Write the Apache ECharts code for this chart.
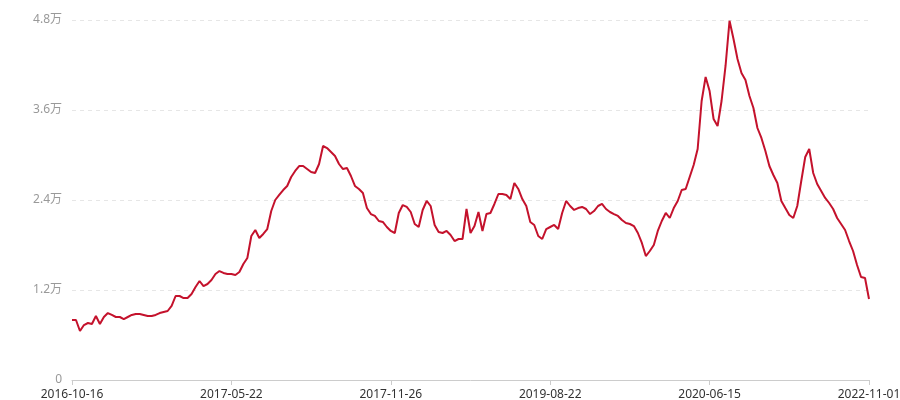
<!DOCTYPE html>
<html>
<head>
<meta charset="utf-8">
<script src="https://cdn.jsdelivr.net/npm/echarts@6/dist/echarts.min.js"></script>
<style>
html,body{margin:0;padding:0;background:#fff;}
#chart{width:900px;height:400px;}
</style>
</head>
<body>
<div id="chart"></div>
<script>
var tickLabels = ['2016-10-16', '2017-05-22', '2017-11-26', '2019-08-22', '2020-06-15', '2022-11-01'];
var labelStep = 40;
var values = [
8000, 8000, 6530, 7330, 7600, 7470, 8530, 7470, 8400, 8930,
8670, 8400, 8400, 8130, 8400, 8670, 8800, 8800, 8670, 8530,
8530, 8670, 8930, 9070, 9200, 9870, 11200, 11200, 10930, 10930,
11470, 12400, 13200, 12530, 12800, 13330, 14130, 14530, 14270, 14130,
14130, 14000, 14400, 15470, 16270, 19200, 20000, 18930, 19470, 20130,
22530, 24000, 24670, 25330, 25870, 27070, 27870, 28530, 28530, 28130,
27730, 27600, 28800, 31200, 30930, 30400, 29870, 28800, 28130, 28270,
27200, 25870, 25470, 24930, 22930, 22130, 21870, 21200, 21070, 20400,
19870, 19600, 22270, 23330, 23070, 22400, 20800, 20400, 22670, 23870,
23200, 20670, 19730, 19600, 19870, 19330, 18530, 18800, 18800, 22800,
19600, 20530, 22400, 19870, 22130, 22270, 23470, 24800, 24800, 24670,
24130, 26270, 25470, 24130, 23200, 21070, 20670, 19200, 18800, 20130,
20400, 20670, 20130, 22270, 23870, 23200, 22670, 22930, 23070, 22800,
22130, 22530, 23200, 23470, 22800, 22400, 22130, 21870, 21330, 20930,
20800, 20530, 19600, 18270, 16530, 17200, 18000, 19870, 21200, 22270,
21600, 22930, 23870, 25330, 25470, 27070, 28670, 30800, 37200, 40400,
38530, 34800, 33870, 37200, 41870, 47900, 45470, 42800, 40930, 40000,
37870, 36270, 33600, 32270, 30530, 28530, 27330, 26270, 23870, 22930,
22000, 21600, 23200, 26530, 29730, 30800, 27600, 26130, 25200, 24270,
23600, 22800, 21600, 20800, 20000, 18530, 17200, 15330, 13730, 13600,
10800
];
var categories = values.map(function (v, i) { return String(i); });

var chart = echarts.init(document.getElementById('chart'));
chart.setOption({
  animation: false,
  grid: { left: 72, right: 31, top: 20, bottom: 20, containLabel: false, outerBoundsMode: 'none' },
  textStyle: { fontFamily: 'Noto Sans, "Noto Sans CJK SC", sans-serif' },
  xAxis: {
    type: 'category',
    data: categories,
    boundaryGap: false,
    axisLine: { lineStyle: { color: '#cccccc' } },
    axisTick: { show: true, interval: labelStep - 1, length: 5, lineStyle: { color: '#cccccc' } },
    axisLabel: {
      interval: labelStep - 1,
      color: '#333333',
      fontSize: 12,
      margin: 9,
      formatter: function (v, idx) {
        var k = Math.round(idx / labelStep);
        return tickLabels[k] || '';
      }
    },
    splitLine: { show: false }
  },
  yAxis: {
    type: 'value',
    min: 0,
    max: 48000,
    interval: 12000,
    axisLine: { show: false },
    axisTick: { show: false },
    axisLabel: {
      color: '#999999',
      fontSize: 12,
      margin: 10,
      formatter: function (v) { return v === 0 ? '0' : (v / 10000) + '万'; }
    },
    splitLine: { lineStyle: { color: '#e6e6e6', type: [4, 4] } }
  },
  series: [{
    type: 'line',
    data: values,
    showSymbol: false,
    symbol: 'none',
    smooth: false,
    lineStyle: { color: '#c4122c', width: 2 },
    itemStyle: { color: '#c4122c' }
  }]
});
</script>
</body>
</html>
